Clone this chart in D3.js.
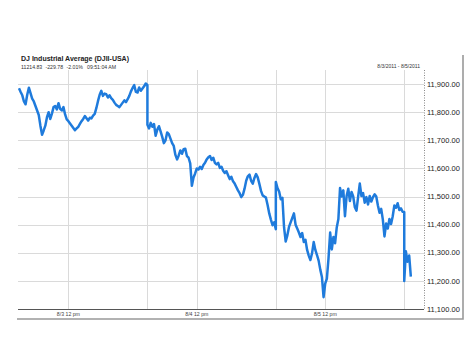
<!DOCTYPE html>
<html>
<head>
<meta charset="utf-8">
<script src="https://cdn.jsdelivr.net/npm/d3@7"></script>
<style>
  body { margin: 0; background: #fff; }
  text { font-family: "Liberation Sans", Arial, sans-serif; fill: #333; }
</style>
</head>
<body>
<script>
// 5 minute closes, one array per session (9:30 -> 16:00)
const day1 = [11885, 11872, 11860, 11838, 11828, 11862, 11887, 11868, 11848, 11838,
  11822, 11806, 11790, 11752, 11720, 11735, 11752, 11782, 11800, 11776,
  11795, 11818, 11822, 11810, 11832, 11812, 11806, 11818, 11792, 11774,
  11768, 11760, 11752, 11744, 11736, 11742, 11748, 11758, 11768, 11776,
  11786, 11778, 11770, 11780, 11778, 11788, 11794, 11815, 11840, 11862,
  11876, 11858, 11866, 11864, 11852, 11860, 11850, 11844, 11834, 11826,
  11822, 11818, 11826, 11834, 11842, 11836, 11846, 11858, 11874, 11886,
  11896, 11872, 11870, 11888, 11876, 11884, 11892, 11902, 11896]
const day2 = [11755, 11742, 11762, 11748, 11758, 11716, 11738, 11750, 11732, 11712,
  11690, 11700, 11728, 11722, 11706, 11690, 11680, 11648, 11632, 11646,
  11664, 11652, 11668, 11670, 11644, 11638, 11618, 11538, 11568, 11582,
  11600, 11596, 11606, 11598, 11612, 11620, 11632, 11640, 11644, 11630,
  11638, 11620, 11614, 11620, 11602, 11606, 11592, 11584, 11590, 11576,
  11562, 11570, 11554, 11546, 11534, 11522, 11512, 11498, 11506, 11528,
  11556, 11572, 11578, 11556, 11546, 11566, 11580, 11568, 11545, 11520,
  11504, 11500, 11496, 11470, 11440, 11418, 11398, 11408, 11384]
const day3 = [11552, 11530, 11518, 11490, 11495, 11390, 11340, 11362, 11392, 11408,
  11424, 11440, 11400, 11386, 11372, 11356, 11370, 11338, 11346, 11310,
  11290, 11274, 11298, 11338, 11310, 11292, 11272, 11240, 11214, 11142,
  11190, 11208, 11280, 11372, 11312, 11356, 11334, 11390, 11420, 11530,
  11500, 11522, 11430, 11502, 11528, 11484, 11516, 11500, 11462, 11450,
  11500, 11546, 11502, 11512, 11478, 11498, 11472, 11502, 11482, 11498,
  11508, 11500, 11468, 11442, 11456, 11418, 11358, 11404, 11386, 11420,
  11402, 11430, 11468, 11460, 11476, 11452, 11458, 11446, 11445]
const day4 = [11200, 11305, 11268, 11290, 11215]

const yTicks = [11100, 11200, 11300, 11400, 11500, 11600, 11700, 11800, 11900]
const noonLabels = ["8/3 12 pm", "8/4 12 pm", "8/5 12 pm"]
const sessionLen = 390   // minutes per trading day
const step = 5

var width = 474,
    height = 355

const svg = d3.select("body")
  .append("svg")
    .attr("width", width)
    .attr("height", height)

// plot area
const plotL = 19, plotR = 424, plotT = 70, plotB = 309

const x = d3.scaleLinear()
  .domain([0, 1230])
  .range([plotL, plotR])

const y = d3.scaleLinear()
  .domain([11100, 11950])
  .range([plotB, plotT])

// build the series, sessions glued end to end
const series = []
;[day1, day2, day3, day4].forEach(function(day, k) {
  day.forEach(function(v, i) {
    series.push({ t: k * sessionLen + i * step, v: v })
  })
})

// grid
svg.append("g")
  .selectAll("line")
  .data(yTicks)
  .join("line")
    .attr("x1", plotL - 1)
    .attr("x2", plotR)
    .attr("y1", d => Math.round(y(d)) + 0.5)
    .attr("y2", d => Math.round(y(d)) + 0.5)
    .attr("stroke", "#dadada")

const vLines = [150, 390, 540, 780, 930, 1170]
svg.append("g")
  .selectAll("line")
  .data(vLines)
  .join("line")
    .attr("x1", d => Math.round(x(d)) + 0.5)
    .attr("x2", d => Math.round(x(d)) + 0.5)
    .attr("y1", plotT)
    .attr("y2", plotB)
    .attr("stroke", "#dadada")

// price line
const line = d3.line()
  .x(d => x(d.t))
  .y(d => y(d.v))

svg.append("path")
  .datum(series)
  .attr("d", line)
  .attr("fill", "none")
  .attr("stroke", "#1f7bdc")
  .attr("stroke-width", 2.5)
  .attr("stroke-linejoin", "round")

// bottom axis line
svg.append("line")
  .attr("x1", plotL - 1).attr("x2", plotR)
  .attr("y1", plotB + 0.5).attr("y2", plotB + 0.5)
  .attr("stroke", "#555")

// right axis, dotted
svg.append("line")
  .attr("x1", plotR + 0.5).attr("x2", plotR + 0.5)
  .attr("y1", plotT).attr("y2", plotB)
  .attr("stroke", "#888")
  .attr("stroke-dasharray", "1,1.5")

svg.append("g")
  .selectAll("text")
  .data(yTicks)
  .join("text")
    .attr("x", plotR + 3)
    .attr("y", d => y(d))
    .attr("dy", "0.35em")
    .style("font-size", "7.5px")
    .style("fill", "#222")
    .text(d3.format(",.2f"))

// noon labels
svg.append("g")
  .selectAll("text")
  .data(noonLabels)
  .join("text")
    .attr("x", (d, i) => x(i * sessionLen + 150))
    .attr("y", plotB + 6.5)
    .attr("text-anchor", "middle")
    .style("font-size", "5.2px")
    .style("fill", "#444")
    .text(d => d)

// frame (right + bottom only)
svg.append("path")
  .attr("d", "M463,55 V319 H17")
  .attr("fill", "none")
  .attr("stroke", "#999")
  .attr("stroke-width", 1.6)

// header
svg.append("text")
  .attr("x", 21)
  .attr("y", 61)
  .style("font-size", "7px")
  .style("font-weight", "bold")
  .style("fill", "#222")
  .text("DJ Industrial Average (DJII-USA)")

const quote = [["11214.83", 21], ["-229.78", 45.5], ["-2.01%", 66.5], ["09:51:04 AM", 87]]
svg.append("g")
  .selectAll("text")
  .data(quote)
  .join("text")
    .attr("x", d => d[1])
    .attr("y", 69)
    .style("font-size", "5.2px")
    .text(d => d[0])

svg.append("text")
  .attr("x", 420)
  .attr("y", 68)
  .attr("text-anchor", "end")
  .style("font-size", "5px")
  .text("8/3/2011 - 8/5/2011")
</script>
</body>
</html>
